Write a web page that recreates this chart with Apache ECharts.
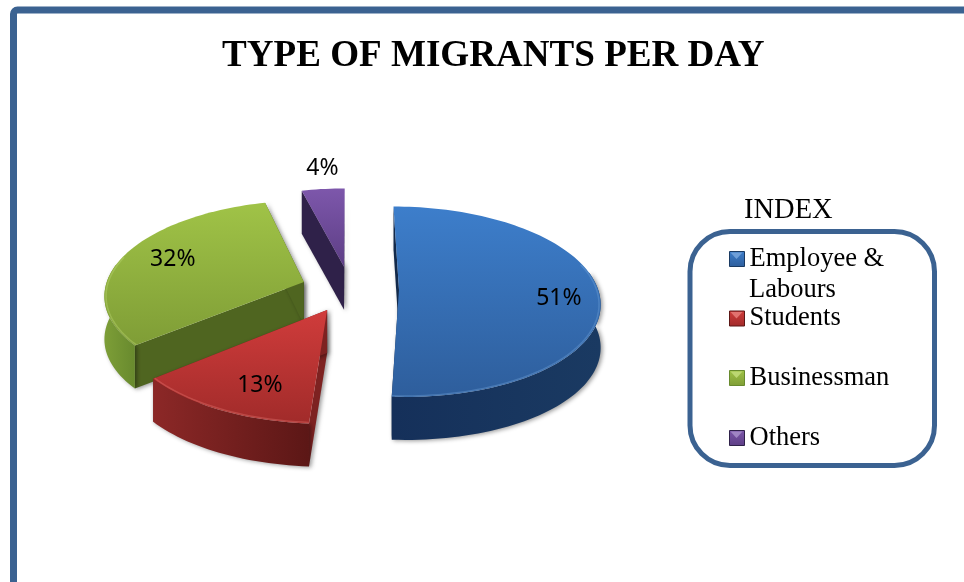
<!DOCTYPE html>
<html>
<head>
<meta charset="utf-8">
<style>html,body{margin:0;padding:0;background:#fff}#chart{width:964px;height:582px}</style>
<script src="https://cdn.jsdelivr.net/npm/echarts@6/dist/echarts.min.js"></script>
</head>
<body>
<div id="chart"></div>
<script>
// Migrant types and their daily share, in percent
const categories = ['Employee & Labours', 'Students', 'Businessman', 'Others'];
const legendLabels = ['Employee &', 'Students', 'Businessman', 'Others'];
const shares = [51, 13, 32, 4];
const chartTitle = 'TYPE OF MIGRANTS PER DAY';
const legendTitle = 'INDEX';

// Palette per slice
const topLight = ['#3d7ecb', '#d03c3b', '#a0c347', '#7d57ab'];
const topDark = ['#2e5e9c', '#a12b2a', '#7f9d36', '#5d3e85'];
const rimTint = ['#6f9fd8', '#e2726f', '#bcd772', '#a085c4'];
const cutFace = ['#12294a', '#7d2221', '#4f6520', '#2f2149'];
const wallLeft = ['#15305a', '#8c2827', '#7d9e37', '#3a2a5c'];
const wallRight = ['#1a3a62', '#5c1716', '#688a2e', '#2f2149'];
const paintOrder = [2, 4, 3, 1];

// Projection of the tilted disc
const frame = { cx: 350, cy: 289, rx: 199, ry: 93.5, perspective: 0.126, depth: 43, explode: 0.246 };
const labelRadius = [0.8, 0.8, 0.8, 1.2];
const labelNudge = [[0, 6], [17, -2], [13, -1], [3, -7]];

const total = shares.reduce((a, b) => a + b, 0);

function project(U, V, drop) {
  const s = 1 / (1 - frame.perspective * V);
  return [frame.cx + frame.rx * U * s, frame.cy + frame.ry * V * s + (drop || 0)];
}

function sliceAngles(i) {
  const before = shares.slice(0, i).reduce((a, b) => a + b, 0);
  return [before / total * 2 * Math.PI, (before + shares[i]) / total * 2 * Math.PI];
}

function vgrad(a, b) {
  return new echarts.graphic.LinearGradient(0, 0, 0, 1, [{ offset: 0, color: a }, { offset: 1, color: b }]);
}
function hgrad(a, b) {
  return new echarts.graphic.LinearGradient(0, 0, 1, 0, [{ offset: 0, color: a }, { offset: 1, color: b }]);
}

const softEdge = { shadowBlur: 4, shadowOffsetX: 2, shadowOffsetY: 1, shadowColor: 'rgba(0,0,0,0.4)' };

function renderSlice(i) {
  const [a0, a1] = sliceAngles(i);
  const mid = (a0 + a1) / 2;
  const ex = frame.explode * Math.sin(mid);
  const ey = -frame.explode * Math.cos(mid);
  const disc = (a, r) => [ex + r * Math.sin(a), ey - r * Math.cos(a)];

  const arc = [];
  const steps = Math.max(4, Math.ceil((a1 - a0) / 0.03));
  for (let k = 0; k <= steps; k++) arc.push(disc(a0 + (a1 - a0) * k / steps, 1));

  const top = arc.map(p => project(p[0], p[1]));
  const low = arc.map(p => project(p[0], p[1], frame.depth));
  const apex = project(ex, ey);
  const apexLow = project(ex, ey, frame.depth);

  const children = [];
  // cut faces, then the curved wall, then the top face over whatever it hides
  children.push({
    type: 'polygon',
    shape: { points: [apex, top[0], low[0], apexLow] },
    style: Object.assign({ fill: cutFace[i] }, softEdge)
  });
  children.push({
    type: 'polygon',
    shape: { points: [apex, top[top.length - 1], low[low.length - 1], apexLow] },
    style: Object.assign({ fill: cutFace[i] }, softEdge)
  });
  const front = [];
  const frontLow = [];
  arc.forEach((p, k) => {
    if (Math.cos(a0 + (a1 - a0) * k / steps) < 0.2) { front.push(top[k]); frontLow.push(low[k]); }
  });
  if (front.length > 1) {
    children.push({
      type: 'polygon',
      shape: { points: front.concat(frontLow.slice().reverse()) },
      style: Object.assign({ fill: hgrad(wallLeft[i], wallRight[i]) }, softEdge)
    });
  }
  children.push({
    type: 'polygon',
    shape: { points: [apex].concat(top) },
    style: { fill: vgrad(topLight[i], topDark[i]) }
  });
  // bevel highlight on the rim
  const rimPoints = [];
  arc.forEach((p, k) => {
    const a = a0 + (a1 - a0) * k / steps;
    if (Math.cos(a) < 0.3) rimPoints.push(project(ex + 0.992 * Math.sin(a), ey - 0.992 * Math.cos(a)));
  });
  if (rimPoints.length > 1) {
    children.push({
      type: 'polyline',
      shape: { points: rimPoints },
      style: { stroke: rimTint[i], lineWidth: 1.5, fill: null, opacity: 0.4 }
    });
  }
  // percentage label
  const lp = disc(mid, labelRadius[i]);
  const at = project(lp[0], lp[1]);
  children.push({
    type: 'text',
    style: {
      x: at[0] + labelNudge[i][0],
      y: at[1] + labelNudge[i][1],
      text: shares[i] + '%',
      fill: '#000',
      font: '23px "Noto Sans"',
      align: 'center',
      verticalAlign: 'middle'
    }
  });
  return { type: 'group', children };
}

// Legend rows: centre lines of each entry
const legendRowY = [258, 317.5, 377, 437];
const swatchLeft = 729;
const swatchSize = 15;
const legendFont = { fontFamily: 'Liberation Serif', fontSize: 26.5, color: '#000' };

const swatchHighlights = legendRowY.map((y, i) => ({
  type: 'polygon',
  z: 20,
  shape: { points: [[swatchLeft + 1.5, y - 5.5], [swatchLeft + swatchSize - 1.5, y - 5.5], [swatchLeft + swatchSize / 2, y + 1]] },
  style: { fill: rimTint[i] }
}));

const chart = echarts.init(document.getElementById('chart'), null, { renderer: 'canvas' });
chart.setOption({
  animation: false,
  backgroundColor: '#fff',
  title: {
    text: chartTitle,
    left: 222,
    top: 38,
    padding: 0,
    textStyle: { fontFamily: 'Liberation Serif', fontWeight: 'bold', fontSize: 37.1, color: '#000' }
  },
  legend: categories.map((name, i) => ({
    data: [name],
    orient: 'vertical',
    left: swatchLeft,
    top: legendRowY[i] - 15,
    padding: 0,
    itemWidth: swatchSize,
    itemHeight: swatchSize,
    icon: 'rect',
    selectedMode: false,
    formatter: () => legendLabels[i],
    itemStyle: { color: vgrad(topLight[i], topDark[i]), borderColor: wallRight[i], borderWidth: 1 },
    textStyle: Object.assign({ lineHeight: 30, padding: [2, 0, 0, 0] }, legendFont)
  })),
  graphic: [
    {
      type: 'rect',
      shape: { x: 13.5, y: 10, width: 1200, height: 900, r: 4 },
      style: { fill: 'none', stroke: '#3b6291', lineWidth: 7 },
      z: 0
    },
    {
      type: 'rect',
      shape: { x: 690, y: 231.5, width: 244.5, height: 234, r: 40 },
      style: { fill: 'none', stroke: '#3b6291', lineWidth: 5 },
      z: 0
    },
    {
      type: 'text',
      z: 10,
      style: { x: 744, y: 211, text: legendTitle, fill: '#000', font: '28.5px "Liberation Serif"', verticalAlign: 'middle' }
    },
    {
      type: 'text',
      z: 10,
      style: { x: 749, y: 290, text: 'Labours', fill: '#000', font: '26.5px "Liberation Serif"', verticalAlign: 'middle' }
    }
  ].concat(swatchHighlights),
  series: categories.map((name, i) => ({
    type: 'custom',
    name,
    z: paintOrder[i],
    coordinateSystem: 'none',
    silent: true,
    data: [[shares[i]]],
    itemStyle: { color: topLight[i] },
    renderItem: () => renderSlice(i)
  }))
});
</script>
</body>
</html>
